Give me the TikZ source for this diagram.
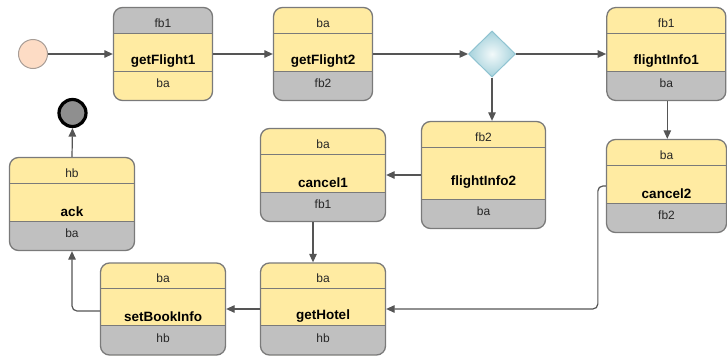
\documentclass[tikz,border=0pt]{standalone}
\usepackage{fontspec}
\setmainfont{Liberation Sans}
\usetikzlibrary{shapes.geometric,arrows.meta}

\definecolor{boxyellow}{HTML}{FFEBA2}
\definecolor{boxgrey}{HTML}{C0C0C0}
\definecolor{boxline}{HTML}{7A7A7A}
\definecolor{connline}{HTML}{555555}
\definecolor{initfill}{HTML}{FDDCC5}
\definecolor{initline}{HTML}{A89D96}
\definecolor{finalfill}{HTML}{8F8F8F}
\definecolor{decouter}{HTML}{A6D2DC}
\definecolor{decinner}{HTML}{F2F9FA}
\definecolor{decline}{HTML}{8FC3D1}

\tikzset{
  % state box: #1 = header fill, #2 = footer fill
  statebox/.style args={#1/#2}{
    draw=boxline, line width=1.3pt, rounded corners=9pt, inner sep=0pt,
    fill=boxyellow,
    path picture={
      \fill[#1, sharp corners] (path picture bounding box.north west)
        rectangle ([yshift=-25.5pt]path picture bounding box.north east);
      \fill[#2, sharp corners] ([yshift=29.5pt]path picture bounding box.south west)
        rectangle (path picture bounding box.south east);
      \draw[boxline, line width=1pt, sharp corners]
        ([yshift=-25.5pt]path picture bounding box.north west)
        -- ([yshift=-25.5pt]path picture bounding box.north east);
      \draw[boxline, line width=1pt, sharp corners]
        ([yshift=29.5pt]path picture bounding box.south west)
        -- ([yshift=29.5pt]path picture bounding box.south east);
    }},
  headtext/.style={font=\fontsize{12}{14}\selectfont, text=black!85, inner sep=0pt},
  titletext/.style={font=\fontsize{13.5}{16}\selectfont\bfseries, text=black, inner sep=0pt},
  conn/.style={draw=connline, line width=1.2pt,
    -{Triangle[length=8.5pt,width=7.5pt]}},
}

% box with its three labels: name, x, y, width, height, colours, head, title, foot
\newcommand{\stbox}[9]{%
  \node[statebox=#6, minimum width=#4pt, minimum height=#5pt] (#1) at (#2,#3) {};
  \node[headtext] (#1-head) at ([yshift=-16pt]#1.north) {#7};
  \node[titletext] (#1-title) at ([yshift=-7.5pt]#1.center) {#8};
  \node[headtext] (#1-foot) at ([yshift=17.5pt]#1.south) {#9};
}

\begin{document}
\begin{tikzpicture}[x=1pt,y=-1pt]
  \useasboundingbox (0,0) rectangle (727,356);

  % start and end states
  \node[circle, minimum size=29pt, inner sep=0pt, fill=initfill, draw=initline, line width=1pt]
    (init) at (33,54) {};
  \node[circle, minimum size=27pt, inner sep=0pt, fill=finalfill, draw=black, line width=3.2pt]
    (final) at (72.5,113) {};

  % decision
  \node[diamond, minimum width=47pt, minimum height=46pt, inner sep=0pt,
        draw=decline, line width=1pt, inner color=decinner, outer color=decouter]
    (dec) at (492,54) {};

  % activities
  \stbox{gf1}{163}{54}{99}{93}{boxgrey/boxyellow}{fb1}{getFlight1}{ba}
  \stbox{gf2}{323}{54}{99}{93}{boxyellow/boxgrey}{ba}{getFlight2}{fb2}
  \stbox{fi1}{666.3}{54}{119}{93}{boxyellow/boxgrey}{fb1}{flightInfo1}{ba}
  \stbox{fi2}{483.5}{175}{124}{107}{boxyellow/boxgrey}{fb2}{flightInfo2}{ba}
  \stbox{c1}{323}{175}{125}{93}{boxyellow/boxgrey}{ba}{cancel1}{fb1}
  \stbox{c2}{666.5}{186}{120}{93}{boxyellow/boxgrey}{ba}{cancel2}{fb2}
  \stbox{ack}{72}{204}{125}{93}{boxyellow/boxgrey}{hb}{ack}{ba}
  \stbox{sbi}{163}{309}{125}{92}{boxyellow/boxgrey}{ba}{setBookInfo}{hb}
  \stbox{gh}{323}{309}{125}{92}{boxyellow/boxgrey}{ba}{getHotel}{hb}

  % flow
  \draw[conn] (init) -- (gf1);
  \draw[conn] (gf1) -- (gf2);
  \draw[conn] (gf2) -- (dec);
  \draw[conn] (dec) -- (fi1);
  \draw[conn] (dec.south) -- (dec.south |- fi2.north);
  \draw[conn] ([xshift=1pt]fi1.south) -- ([xshift=1pt]fi1.south |- c2.north);
  \draw[conn] (fi2.west |- c1.east) -- (c1.east);
  \draw[conn] ([xshift=-10pt]c1.south) -- ([xshift=-10pt]c1.south |- gh.north);
  \draw[conn, rounded corners=5pt] (c2.west) -- ++(-8,0) |- (gh.east);
  \draw[conn] (gh.west) -- (sbi.east);
  \draw[conn, rounded corners=5pt] ([yshift=-2pt]sbi.west) -| (ack.south);
  \draw[conn] (ack.north) -- (final.south);
\end{tikzpicture}
\end{document}
